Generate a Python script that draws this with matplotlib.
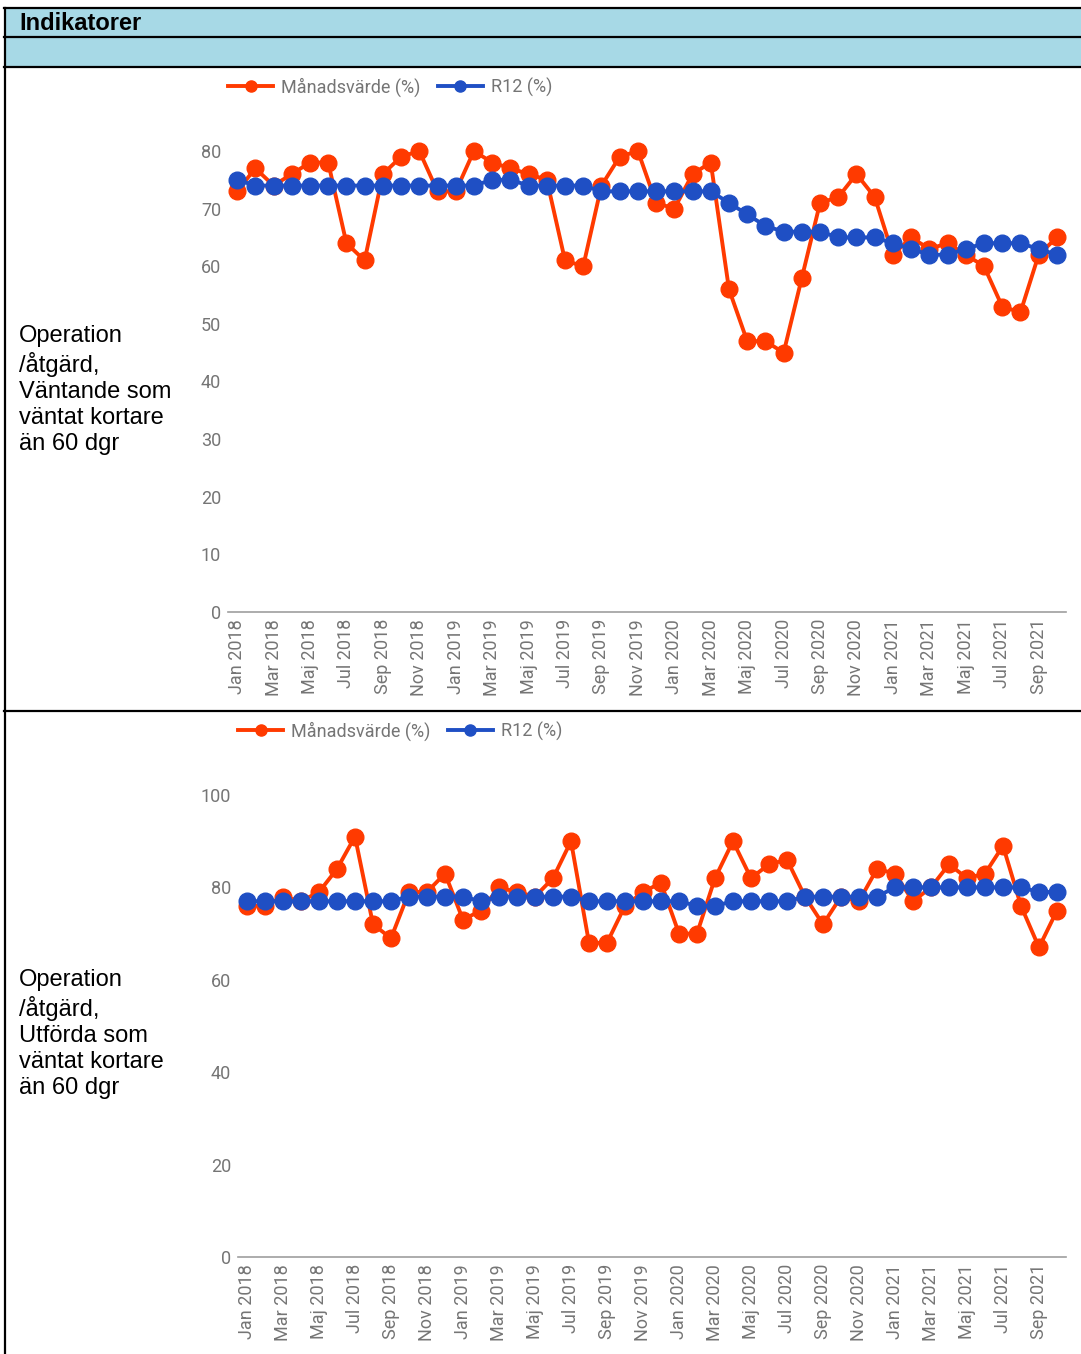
import matplotlib.pyplot as plt
from matplotlib.lines import Line2D

# Months Jan 2018 - Okt 2021
month_names = ["Jan", "Feb", "Mar", "Apr", "Maj", "Jun",
               "Jul", "Aug", "Sep", "Okt", "Nov", "Dec"]
years = [2018, 2019, 2020, 2021]
months = [f"{m} {y}" for y in years for m in month_names][:46]

# Väntande som väntat kortare än 60 dgr
vant_manad = [73, 77, 74, 76, 78, 78, 64, 61, 76, 79, 80, 73,
              73, 80, 78, 77, 76, 75, 61, 60, 74, 79, 80, 71,
              70, 76, 78, 56, 47, 47, 45, 58, 71, 72, 76, 72,
              62, 65, 63, 64, 62, 60, 53, 52, 62, 65]
vant_r12 = [75, 74, 74, 74, 74, 74, 74, 74, 74, 74, 74, 74,
            74, 74, 75, 75, 74, 74, 74, 74, 73, 73, 73, 73,
            73, 73, 73, 71, 69, 67, 66, 66, 66, 65, 65, 65,
            64, 63, 62, 62, 63, 64, 64, 64, 63, 62]

# Utförda som väntat kortare än 60 dgr
utf_manad = [76, 76, 78, 77, 79, 84, 91, 72, 69, 79, 79, 83,
             73, 75, 80, 79, 78, 82, 90, 68, 68, 76, 79, 81,
             70, 70, 82, 90, 82, 85, 86, 78, 72, 78, 77, 84,
             83, 77, 80, 85, 82, 83, 89, 76, 67, 75]
utf_r12 = [77, 77, 77, 77, 77, 77, 77, 77, 77, 78, 78, 78,
           78, 77, 78, 78, 78, 78, 78, 77, 77, 77, 77, 77,
           77, 76, 76, 77, 77, 77, 77, 78, 78, 78, 78, 78,
           80, 80, 80, 80, 80, 80, 80, 80, 79, 79]

row_labels = ["Operation\n/åtgärd,\nVäntande som\nväntat kortare\nän 60 dgr",
              "Operation\n/åtgärd,\nUtförda som\nväntat kortare\nän 60 dgr"]

RED = "#ff3a00"
BLUE = "#1f4fc4"
GREY = "#757575"
HEAD = "#a7d9e6"

W, H = 1081, 1354
fig = plt.figure(figsize=(W / 100, H / 100), dpi=100)


def px_axes(left, top, right, bottom):
    return fig.add_axes([left / W, 1 - bottom / H, (right - left) / W, (bottom - top) / H])


# table background / borders
bg = fig.add_axes([0, 0, 1, 1])
bg.set_xlim(0, W)
bg.set_ylim(H, 0)
bg.axis("off")
bg.fill_between([5, W], 8, 67, color=HEAD, lw=0)
for y in [8, 37, 67, 711]:
    bg.plot([4, W], [y, y], color="black", lw=1.6)
bg.plot([4.5, 4.5], [8, H], color="black", lw=1.6)
bg.text(19, 24, "Indikatorer", fontsize=17, fontweight="bold",
        family="Liberation Sans", va="center", ha="left")
bg.text(19, 390, row_labels[0], fontsize=17, family="Liberation Sans",
        va="center", ha="left", linespacing=1.24)
bg.text(19, 1034, row_labels[1], fontsize=17, family="Liberation Sans",
        va="center", ha="left", linespacing=1.24)


def draw_chart(ax, manad, r12, ymax, ystep, legend_y):
    x = list(range(len(months)))
    ax.plot(x, manad, color=RED, lw=2.8, marker="o", ms=12, clip_on=False, zorder=3)
    ax.plot(x, r12, color=BLUE, lw=2.8, marker="o", ms=12, clip_on=False, zorder=4)
    ax.set_xlim(-0.5, len(months) - 0.5)
    ax.set_ylim(0, ymax)
    ax.set_yticks(range(0, ymax + 1, ystep))
    ax.set_xticks(x[::2])
    ax.set_xticklabels(months[::2], rotation=90, va="top", ha="center")
    for s in ["top", "right", "left"]:
        ax.spines[s].set_visible(False)
    ax.spines["bottom"].set_color("#9e9e9e")
    ax.spines["bottom"].set_linewidth(1.2)
    ax.tick_params(length=0, labelsize=13, labelcolor=GREY, pad=5)
    for t in ax.get_xticklabels() + ax.get_yticklabels():
        t.set_family("Roboto")
    handles = [Line2D([], [], color=RED, lw=2.8, marker="o", ms=8),
               Line2D([], [], color=BLUE, lw=2.8, marker="o", ms=8)]
    leg = ax.legend(handles, ["Månadsvärde (%)", "R12 (%)"], ncol=2, frameon=False,
                    loc="center left", bbox_to_anchor=(0, legend_y),
                    handlelength=2.5, columnspacing=0.95, handletextpad=0.45,
                    borderaxespad=0, borderpad=0,
                    prop={"family": "Roboto", "size": 13})
    for t in leg.get_texts():
        t.set_color(GREY)


ax1 = px_axes(228, 151, 1066, 612)
draw_chart(ax1, vant_manad, vant_r12, 80, 10, 1 + (151 - 87) / (612 - 151))

ax2 = px_axes(238, 795, 1066, 1257)
draw_chart(ax2, utf_manad, utf_r12, 100, 20, 1 + (795 - 731) / (1257 - 795))

fig.savefig("out.png", dpi=100)
